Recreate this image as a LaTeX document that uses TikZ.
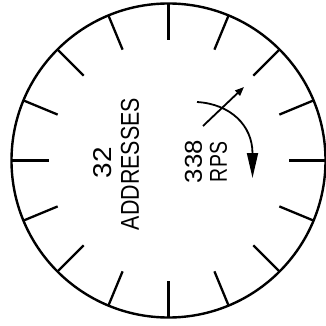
\documentclass[tikz,border=0pt]{standalone}
\usepackage{fontspec}
\setmainfont{Liberation Sans}
\usetikzlibrary{arrows.meta,calc}
\tikzset{
  rim/.style={line width=2.4pt},
  tickmark/.style={line width=2.3pt},
  lbl/.style={inner sep=0pt, anchor=center, rotate=90},
  turn/.style={line width=1.8pt, -{Triangle[length=25pt,width=11pt]}},
  pointer/.style={line width=1.8pt, -{Triangle[length=9pt,width=7pt]}}
}
\begin{document}
\begin{tikzpicture}[x=1pt,y=-1pt]
\useasboundingbox (0,0) rectangle (325,326);
\coordinate (c) at (168.5,160.5);
\draw[rim] (c) circle[radius=157];
\foreach \a in {0,22.5,...,337.5}{
  \draw[tickmark] ($(c)+(\a:157)$) -- ($(c)+(\a:120)$);
}
\node[lbl] (n32) at (103,162.5) {\resizebox{31pt}{18pt}{32}};
\node[lbl] (addr) at (130,164) {\resizebox{132pt}{18pt}{ADDRESSES}};
\node[lbl] (n338) at (193.5,161.5) {\resizebox{43pt}{17pt}{338}};
\node[lbl] (rps) at (218.5,162) {\resizebox{40pt}{17pt}{RPS}};
\coordinate (arcS) at (197,102);
\coordinate (arcE) at (252.5,178);
\draw[turn] (arcS) .. controls (230,104) and (252.5,125) .. (arcE);
\coordinate (ptS) at (203,126);
\coordinate (ptE) at (244,87);
\draw[pointer] (ptS) -- (ptE);
\end{tikzpicture}
\end{document}
